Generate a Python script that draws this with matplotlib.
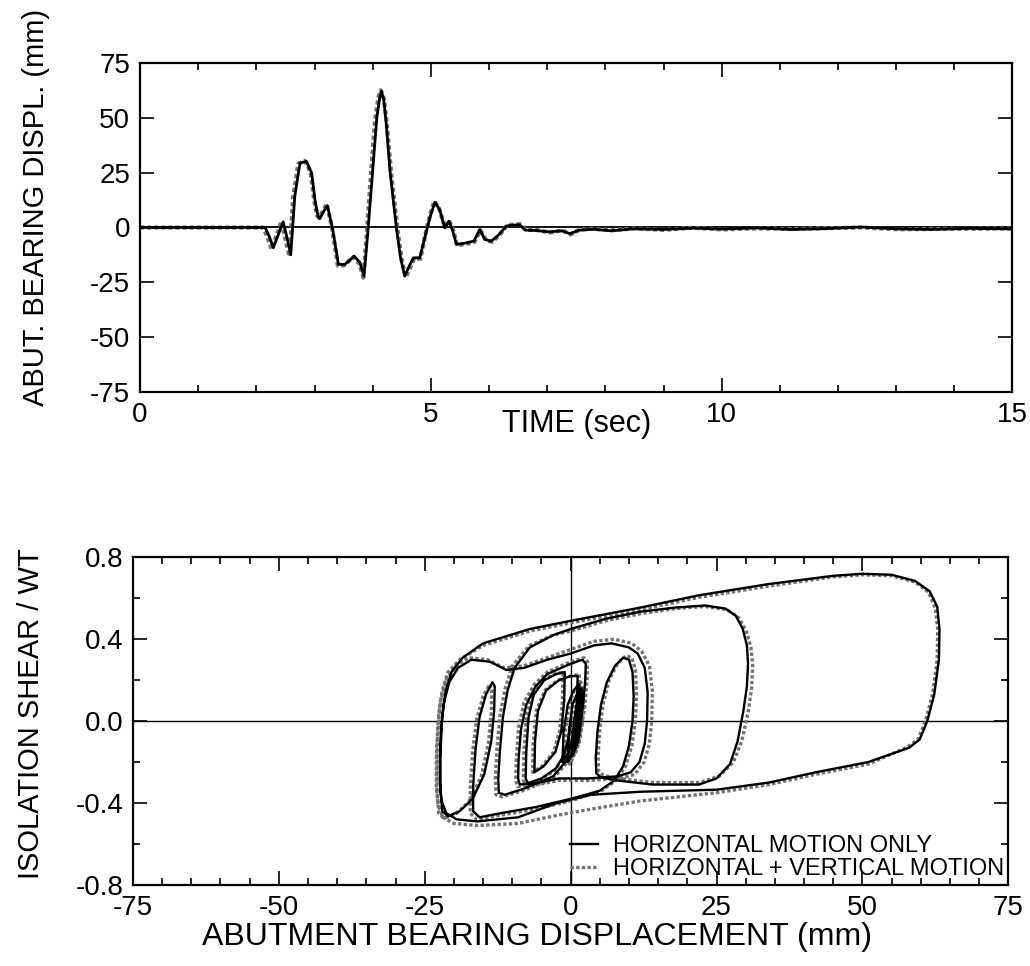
import matplotlib
matplotlib.use('Agg')
import matplotlib.pyplot as plt
from matplotlib.ticker import MultipleLocator, FormatStrFormatter

plt.rcParams['font.family'] = ['Liberation Sans', 'DejaVu Sans']
plt.rcParams['axes.unicode_minus'] = False

# abutment bearing displacement history (mm)
t_h = [0, 2.15, 2.22, 2.29, 2.38, 2.46, 2.53, 2.59, 2.66, 2.75, 2.86, 2.95, 3.01, 3.06,
       3.09, 3.15, 3.22, 3.31, 3.41, 3.52, 3.60, 3.68, 3.78, 3.85, 3.92, 4.01, 4.07, 4.12,
       4.15, 4.19, 4.23, 4.30, 4.41, 4.48, 4.55, 4.62, 4.70, 4.81, 4.93, 5.00, 5.07, 5.15,
       5.24, 5.31, 5.37, 5.44, 5.52, 5.61, 5.74, 5.84, 5.93, 6.04, 6.16, 6.30, 6.42, 6.53,
       6.62, 6.82, 7.04, 7.25, 7.39, 7.55, 7.8, 8.1, 8.5, 9.0, 9.5, 10.0, 10.6, 11.2, 11.8,
       12.4, 13.0, 13.6, 14.2, 15.0]
d_h = [0, 0, -4, -9.2, -3, 2.6, -5, -12.4, 14.2, 29.4, 30.1, 24.8, 12, 5.1,
       4.0, 7, 10, -0.6, -16.8, -16.8, -15, -13, -16, -22.1, -0.9, 29.4, 50, 59,
       62, 58, 48, 25, -0.8, -14, -22.1, -18, -13.8, -13.8, -0.9, 6, 11.5, 8.2,
       -0.2, 2.9, -1, -7.7, -7.4, -7, -6.2, -0.9, -5.5, -6.2, -3.5, 0.7, 1.1, 1.2,
       -1.2, -1.4, -2.0, -1.5, -2.8, -1.2, -0.8, -1.5, -0.6, -0.9, -0.3, -0.7, -0.2, -0.9,
       -0.5, 0.2, -0.6, -0.9, -0.4, -0.6]

t_hv = [0, 2.12, 2.19, 2.26, 2.35, 2.43, 2.50, 2.57, 2.63, 2.72, 2.83, 2.93, 2.99, 3.04,
        3.08, 3.14, 3.21, 3.30, 3.40, 3.51, 3.59, 3.67, 3.77, 3.84, 3.90, 3.98, 4.04, 4.10,
        4.14, 4.19, 4.24, 4.32, 4.43, 4.50, 4.57, 4.64, 4.71, 4.82, 4.92, 4.99, 5.06, 5.14,
        5.24, 5.31, 5.38, 5.45, 5.53, 5.62, 5.75, 5.85, 5.95, 6.05, 6.17, 6.31, 6.43, 6.54,
        6.63, 6.83, 7.05, 7.26, 7.40, 7.56, 7.8, 8.1, 8.5, 9.0, 9.5, 10.0, 10.6, 11.2, 11.8,
        12.4, 13.0, 13.6, 14.2, 15.0]
d_hv = [0, 0, -4.5, -9.8, -3.5, 2.8, -5.5, -13.2, 13.5, 29.0, 30.4, 25.5, 13, 5.6,
        4.4, 7.3, 10.6, 0, -17.4, -17.2, -15.3, -13.4, -16.6, -22.8, -1.5, 28.5, 49, 59.5,
        62.5, 59, 48, 24, -1.5, -15, -22.6, -18.5, -14.3, -14.2, -1.5, 6.2, 12.0, 8.7,
        0.2, 3.2, -0.7, -8.2, -7.8, -7.4, -6.6, -1.3, -5.9, -6.5, -3.8, 1.0, 1.4, 1.5,
        -1.0, -1.2, -2.3, -1.3, -3.2, -1.0, -0.6, -1.3, -0.4, -1.1, -0.1, -0.9, -0.4, -0.7,
        -0.3, 0.0, -0.8, -0.7, -0.6, -0.5]

# hysteresis, horizontal motion only: displacement (mm) and shear/weight
x_h = [0, -0.4, -1.2, -2.5, -5, -7.5, -8.7, -9.0,
       -8.9, -8.5, -7.6, -6, -4, 0, 2.0, 2.6,
       2.5, 2.1, 1.3, 0.3, -3, -8, -11.3, -12.3,
       -12.4, -12.1, -11.6, -10.8, -9.6, -7, -3, 0, 6, 12, 18, 23, 26.5, 28.3, 29.5, 30.2, 30.4,
       30.2, 29.6, 28.6, 27.3, 25, 22, 14, 8, 5.2, 4.4,
       4.3, 4.6, 5.2, 6.2, 7.6, 9, 10,
       10.6, 10.8, 10.6, 10, 9, 7.5, 5, 0, -6, -12, -15.6, -16.7,
       -16.7, -16.3, -15.6, -14.5, -13.4, -13.0,
       -13.1, -13.6, -14.8, -16.8, -19, -21, -22,
       -22.3, -22.3, -22, -21.4, -20.4, -18.5, -15, -7, 0, 12, 22, 34, 45, 50, 55, 59, 61.5,
       62.8, 63.2, 63.1,
       62.3, 61.1, 59.8, 58, 51, 42, 34, 25, 12, 3.5, -2.3, -9, -16, -19.5, -21.3, -22.1,
       -22.4, -22.4, -22.2, -21.7, -20.8, -19.3, -17, -13.8, -11, -8, -4, 0, 4, 7, 10, 11.5, 12.7, 13.2,
       13.1, 12.7, 11.8, 10.3, 8, 3, -2, -5.5, -7.2, -7.7,
       -7.6, -7.2, -6.3, -4.5, -2.5, -1,
       -1.1, -1.6, -2.6, -4.6, -6.2,
       -6.1, -5.6, -4.2, -2, 0, 1.2,
       1.1, 0.6, -0.3, -1.4,
       -1.2, -0.5, 0.5, 1.5,
       1.4, 0.9, 0.1, -0.5,
       -0.3, 0.3, 1.2, 1.9,
       1.7, 1.1, 0.5, 0.2,
       0.4, 0.9, 1.5, 2.0,
       1.8, 1.3, 0.7,
       0.8, 1.2, 1.7,
       1.5, 1.0, 0.8,
       1.1, 1.5, 1.3, 1.1, 1.2]
f_h = [0, -0.09, -0.17, -0.23, -0.28, -0.305, -0.31, -0.28,
       -0.18, -0.04, 0.08, 0.17, 0.23, 0.28, 0.30, 0.28,
       0.2, 0.07, -0.06, -0.16, -0.27, -0.33, -0.36, -0.35,
       -0.28, -0.14, 0.02, 0.15, 0.26, 0.36, 0.42, 0.45, 0.50, 0.535, 0.555, 0.565, 0.55, 0.515, 0.45, 0.37, 0.28,
       0.17, 0.05, -0.1, -0.21, -0.28, -0.31, -0.31, -0.29, -0.275, -0.255,
       -0.18, -0.05, 0.08, 0.19, 0.27, 0.31, 0.30,
       0.24, 0.12, 0.0, -0.12, -0.22, -0.29, -0.34, -0.38, -0.42, -0.45, -0.47, -0.44,
       -0.32, -0.14, 0.02, 0.13, 0.19, 0.17,
       0.05, -0.1, -0.26, -0.38, -0.44, -0.465, -0.44,
       -0.34, -0.16, 0.03, 0.15, 0.24, 0.31, 0.38, 0.45, 0.49, 0.555, 0.615, 0.67, 0.71, 0.72, 0.715, 0.685, 0.635,
       0.56, 0.45, 0.30,
       0.13, 0.0, -0.09, -0.13, -0.20, -0.25, -0.30, -0.335, -0.345, -0.36, -0.40, -0.47, -0.49, -0.48, -0.45, -0.39,
       -0.3, -0.18, -0.04, 0.09, 0.19, 0.26, 0.30, 0.29, 0.25, 0.26, 0.30, 0.33, 0.37, 0.38, 0.36, 0.33, 0.26, 0.14,
       0.0, -0.11, -0.2, -0.25, -0.27, -0.28, -0.28, -0.30, -0.31, -0.28,
       -0.15, 0.02, 0.13, 0.20, 0.23, 0.24,
       0.10, -0.05, -0.15, -0.22, -0.25,
       -0.10, 0.05, 0.15, 0.20, 0.22, 0.22,
       0.10, -0.05, -0.15, -0.20,
       -0.05, 0.08, 0.15, 0.18,
       0.05, -0.08, -0.17, -0.20,
       -0.06, 0.08, 0.14, 0.16,
       0.03, -0.10, -0.16, -0.17,
       -0.05, 0.06, 0.12, 0.13,
       0.0, -0.10, -0.14,
       -0.03, 0.06, 0.10,
       -0.02, -0.09, -0.08,
       0.02, 0.06, -0.03, -0.04, 0.0]

# hysteresis, horizontal + vertical motion
x_hv = [0, -0.3, -1.3, -2.7, -5.3, -7.9, -9.1, -9.4,
        -9.3, -8.9, -8.0, -6.2, -4, 0, 2.3, 2.9,
        2.8, 2.4, 1.5, 0.4, -3, -8.2, -11.8, -12.8,
        -12.9, -12.6, -12.1, -11.2, -10, -7, -3, 0, 6, 12, 18, 23, 26.8, 28.8, 30.1, 30.9, 31.2,
        31.0, 30.4, 29.3, 27.9, 25.4, 22, 14, 8, 5.6, 4.8,
        4.7, 5.0, 5.6, 6.6, 8.0, 9.5, 10.5,
        11.1, 11.3, 11.1, 10.5, 9.4, 7.8, 5.3, 0, -6, -12, -16.1, -17.2,
        -17.2, -16.8, -16.1, -15, -13.9, -13.5,
        -13.6, -14.1, -15.3, -17.3, -19.5, -21.6, -22.6,
        -22.9, -22.9, -22.6, -22, -21, -19, -15, -7, 0, 12, 22, 34, 45, 50, 55, 59, 61.3,
        62.5, 62.9, 62.8,
        62, 60.8, 59.5, 57.5, 51, 42, 34, 25, 12, 3.5, -2.3, -9, -16, -20, -21.9, -22.7,
        -23, -23, -22.8, -22.3, -21.3, -19.7, -17.5, -14.2, -11.4, -8, -4, 0, 4, 7.5, 10.5, 12.2, 13.5, 14,
        13.9, 13.5, 12.6, 11, 8.5, 3, -2, -5.8, -7.6, -8.1,
        -8, -7.6, -6.6, -4.8, -2.7, -1.3,
        -1.4, -1.9, -2.9, -4.9, -6.5,
        -6.4, -5.9, -4.4, -2.2, 0, 1.5,
        1.4, 0.9, 0, -1.1,
        -0.9, -0.2, 0.8, 1.8,
        1.7, 1.2, 0.4, -0.2,
        0, 0.6, 1.5, 2.2,
        2.0, 1.4, 0.8, 0.5,
        0.7, 1.2, 1.8, 2.2,
        2.0, 1.5, 1.0,
        1.1, 1.5, 1.9,
        1.7, 1.3, 1.2, 1.5, 1.4]
f_hv = [0, -0.08, -0.18, -0.24, -0.29, -0.315, -0.32, -0.29,
        -0.18, -0.03, 0.09, 0.18, 0.24, 0.29, 0.31, 0.29,
        0.2, 0.06, -0.07, -0.17, -0.28, -0.34, -0.37, -0.36,
        -0.27, -0.13, 0.03, 0.16, 0.27, 0.37, 0.42, 0.44, 0.49, 0.525, 0.55, 0.56, 0.545, 0.505, 0.44, 0.36, 0.27,
        0.16, 0.04, -0.1, -0.2, -0.27, -0.30, -0.30, -0.28, -0.265, -0.245,
        -0.17, -0.04, 0.09, 0.2, 0.28, 0.32, 0.31,
        0.25, 0.13, 0.0, -0.12, -0.22, -0.29, -0.34, -0.39, -0.43, -0.46, -0.48, -0.45,
        -0.33, -0.15, 0.01, 0.12, 0.18, 0.16,
        0.04, -0.11, -0.27, -0.39, -0.45, -0.475, -0.45,
        -0.34, -0.16, 0.03, 0.15, 0.24, 0.30, 0.37, 0.44, 0.48, 0.545, 0.605, 0.66, 0.705, 0.715, 0.71, 0.68, 0.63,
        0.55, 0.45, 0.30,
        0.13, 0.0, -0.09, -0.13, -0.21, -0.26, -0.31, -0.35, -0.39, -0.43, -0.46, -0.50, -0.51, -0.50, -0.47, -0.41,
        -0.31, -0.18, -0.04, 0.1, 0.2, 0.27, 0.31, 0.30, 0.26, 0.27, 0.31, 0.35, 0.39, 0.40, 0.38, 0.34, 0.27, 0.15,
        0.0, -0.11, -0.2, -0.26, -0.28, -0.29, -0.29, -0.31, -0.32, -0.29,
        -0.15, 0.02, 0.13, 0.20, 0.23, 0.24,
        0.10, -0.05, -0.15, -0.22, -0.25,
        -0.10, 0.05, 0.15, 0.20, 0.22, 0.23,
        0.10, -0.05, -0.16, -0.21,
        -0.05, 0.09, 0.16, 0.19,
        0.05, -0.09, -0.18, -0.21,
        -0.06, 0.08, 0.14, 0.16,
        0.02, -0.11, -0.16, -0.17,
        -0.05, 0.07, 0.12, 0.12,
        -0.01, -0.10, -0.13,
        -0.02, 0.06, 0.09,
        -0.02, -0.08, -0.02, 0.03, 0.0]

labels = ['HORIZONTAL MOTION ONLY', 'HORIZONTAL + VERTICAL MOTION']

fig = plt.figure(figsize=(10.3, 9.66), dpi=100)
ax1 = fig.add_axes([0.136, 0.594, 0.847, 0.341])
ax2 = fig.add_axes([0.129, 0.084, 0.850, 0.339])

# --- displacement time history ---
ax1.axhline(0, color='k', lw=1.3, zorder=1)
ax1.plot(t_hv, d_hv, color='0.45', lw=3.0, ls=(0, (1, 0.7)), zorder=2)
ax1.plot(t_h, d_h, color='k', lw=2.0, zorder=3)
ax1.set_xlim(0, 15)
ax1.set_ylim(-75, 75)
ax1.xaxis.set_major_locator(MultipleLocator(5))
ax1.xaxis.set_minor_locator(MultipleLocator(1))
ax1.yaxis.set_major_locator(MultipleLocator(25))
ax1.set_xlabel('TIME (sec)', fontsize=22)
ax1.set_ylabel('ABUT. BEARING DISPL. (mm)', fontsize=21)
ax1.xaxis.set_label_coords(0.5, -0.05)
ax1.yaxis.set_label_coords(-0.103, 0.56)

# --- shear vs displacement loops ---
ax2.axhline(0, color='k', lw=1.0, zorder=1)
ax2.axvline(0, color='k', lw=1.0, zorder=1)
ax2.plot(x_hv, f_hv, color='0.45', lw=2.4, ls=(0, (1, 0.7)), zorder=2, label=labels[1])
ax2.plot(x_h, f_h, color='k', lw=1.7, zorder=3, label=labels[0])
ax2.set_xlim(-75, 75)
ax2.set_ylim(-0.8, 0.8)
ax2.xaxis.set_major_locator(MultipleLocator(25))
ax2.xaxis.set_minor_locator(MultipleLocator(5))
ax2.yaxis.set_major_locator(MultipleLocator(0.4))
ax2.yaxis.set_minor_locator(MultipleLocator(0.2))
ax2.yaxis.set_major_formatter(FormatStrFormatter('%.1f'))
ax2.set_xlabel('ABUTMENT BEARING DISPLACEMENT (mm)', fontsize=23)
ax2.set_ylabel('ISOLATION SHEAR / WT', fontsize=21)
ax2.xaxis.set_label_coords(0.462, -0.112)
ax2.yaxis.set_label_coords(-0.1, 0.524)

handles, lbls = ax2.get_legend_handles_labels()
ax2.legend(handles[::-1], lbls[::-1], loc='lower right', frameon=False, fontsize=17,
           handlelength=1.2, handletextpad=0.6, labelspacing=0.05,
           borderaxespad=0.05, borderpad=0.15)

for ax in (ax1, ax2):
    for sp in ax.spines.values():
        sp.set_linewidth(1.6)
    ax.tick_params(which='both', direction='in', top=True, right=True,
                   labelsize=20, width=1.2, pad=7)
    ax.tick_params(which='major', length=10)
    ax.tick_params(which='minor', length=5)

fig.savefig('out.png', dpi=100)
